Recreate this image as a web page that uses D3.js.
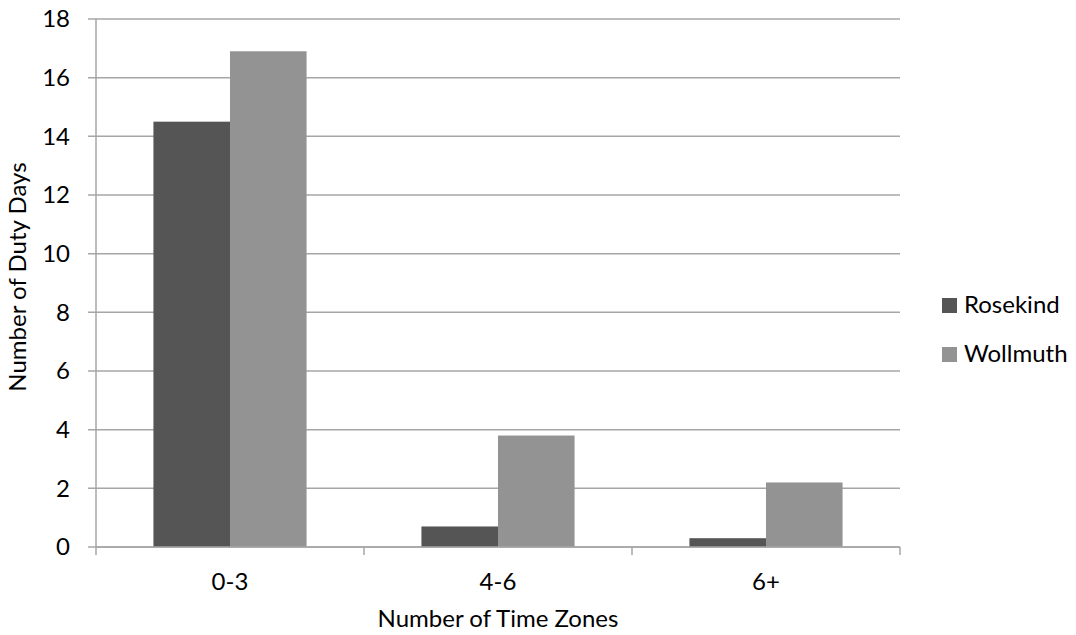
<!DOCTYPE html>
<html>
<head>
<meta charset="utf-8">
<script src="https://cdn.jsdelivr.net/npm/d3@7"></script>
<style>
  body { margin: 0; background: #fff; }
  text { font-family: Lato, "Open Sans", sans-serif; fill: #000; }
</style>
</head>
<body>
<div id="chart"></div>
<script>
var categories = ["0-3", "4-6", "6+"];
var seriesNames = ["Rosekind", "Wollmuth"];
var rosekind = [14.5, 0.7, 0.3];
var wollmuth = [16.9, 3.8, 2.2];
var yTicks = [0, 2, 4, 6, 8, 10, 12, 14, 16, 18];
var colors = ["#555555", "#939393"];

var width = 1076, height = 635;
var plot = { left: 96, right: 900, top: 19, bottom: 547 };
var fontSize = 24;

var svg = d3.select("#chart").append("svg")
  .attr("width", width)
  .attr("height", height);

var x = d3.scaleBand()
  .domain(categories)
  .range([plot.left, plot.right]);

// excel style gap width 75%
var xInner = d3.scaleBand()
  .domain(seriesNames)
  .range([0, x.bandwidth() / 1.75]);

var y = d3.scaleLinear()
  .domain([0, 18])
  .range([plot.bottom, plot.top]);

// gridlines
svg.append("g")
  .selectAll("line")
  .data(yTicks)
  .enter().append("line")
  .attr("x1", plot.left - 8)
  .attr("x2", plot.right)
  .attr("y1", d => y(d))
  .attr("y2", d => y(d))
  .attr("stroke", "#a6a6a6")
  .attr("stroke-width", 1.5);

// y axis line
svg.append("line")
  .attr("x1", plot.left).attr("x2", plot.left)
  .attr("y1", plot.top).attr("y2", plot.bottom)
  .attr("stroke", "#a6a6a6").attr("stroke-width", 1.5);

// y tick labels
svg.append("g")
  .selectAll("text")
  .data(yTicks)
  .enter().append("text")
  .attr("x", 70)
  .attr("y", d => y(d))
  .attr("dy", "0.35em")
  .attr("text-anchor", "end")
  .style("font-size", fontSize + "px")
  .text(d => d);

// bars
var data = categories.map((c, i) => ({ cat: c, values: [rosekind[i], wollmuth[i]] }));
var offset = (x.bandwidth() - x.bandwidth() / 1.75) / 2;

var groups = svg.append("g")
  .selectAll("g")
  .data(data)
  .enter().append("g")
  .attr("transform", d => `translate(${x(d.cat) + offset},0)`);

groups.selectAll("rect")
  .data(d => d.values.map((v, j) => ({ name: seriesNames[j], value: v, idx: j })))
  .enter().append("rect")
  .attr("x", d => xInner(d.name))
  .attr("width", xInner.bandwidth())
  .attr("y", d => y(d.value))
  .attr("height", d => y(0) - y(d.value))
  .attr("fill", d => colors[d.idx]);

// x axis line + ticks
svg.append("line")
  .attr("x1", plot.left).attr("x2", plot.right)
  .attr("y1", plot.bottom).attr("y2", plot.bottom)
  .attr("stroke", "#a6a6a6").attr("stroke-width", 1.5);

var bounds = categories.map(c => x(c)).concat([plot.right]);
svg.append("g")
  .selectAll("line")
  .data(bounds)
  .enter().append("line")
  .attr("x1", d => d).attr("x2", d => d)
  .attr("y1", plot.bottom).attr("y2", plot.bottom + 8)
  .attr("stroke", "#a6a6a6").attr("stroke-width", 1.5);

// x tick labels
svg.append("g")
  .selectAll("text")
  .data(categories)
  .enter().append("text")
  .attr("x", d => x(d) + x.bandwidth() / 2)
  .attr("y", 590)
  .attr("text-anchor", "middle")
  .style("font-size", fontSize + "px")
  .text(d => d);

// axis titles
svg.append("text")
  .attr("x", (plot.left + plot.right) / 2)
  .attr("y", 627)
  .attr("text-anchor", "middle")
  .style("font-size", fontSize + "px")
  .text("Number of Time Zones");

svg.append("text")
  .attr("transform", "translate(26,277) rotate(-90)")
  .attr("text-anchor", "middle")
  .style("font-size", fontSize + "px")
  .text("Number of Duty Days");

// legend
var legend = svg.append("g")
  .selectAll("g")
  .data(seriesNames)
  .enter().append("g")
  .attr("transform", (d, i) => `translate(942,${298 + i * 49})`);

legend.append("rect")
  .attr("width", 15)
  .attr("height", 15)
  .attr("fill", (d, i) => colors[i]);

legend.append("text")
  .attr("x", 22)
  .attr("y", 15)
  .style("font-size", fontSize + "px")
  .text(d => d);
</script>
</body>
</html>
